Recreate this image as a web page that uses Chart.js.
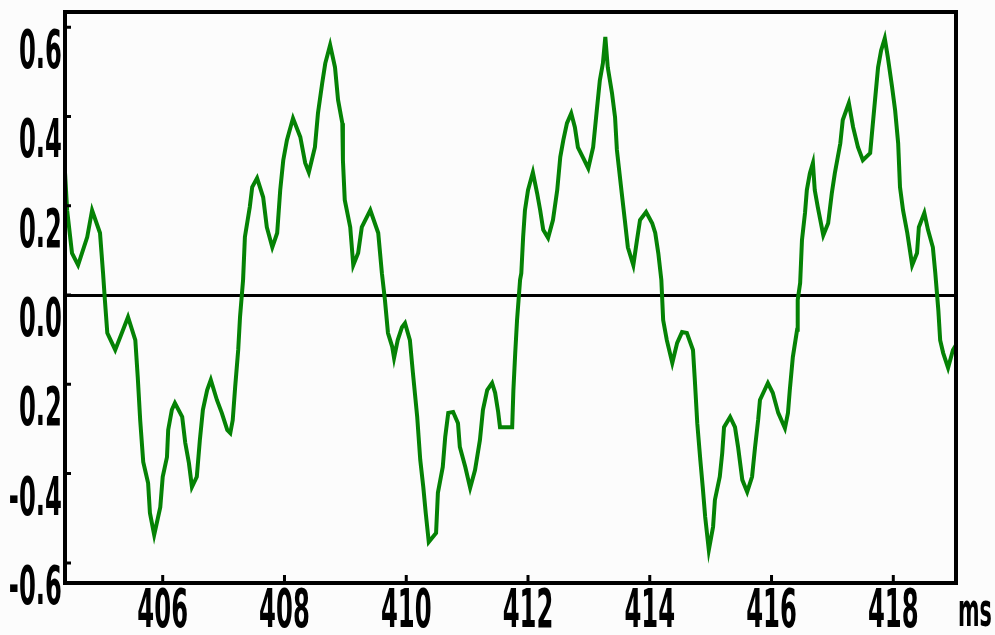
<!DOCTYPE html>
<html>
<head>
<meta charset="utf-8">
<script src="https://cdn.jsdelivr.net/npm/chart.js@4/dist/chart.umd.min.js"></script>
<style>
  body { margin: 0; background: #fcfcfc; }
  canvas { display: block; }
</style>
</head>
<body>
<canvas id="wave" width="995" height="635"></canvas>
<script>
// time axis, ms
let timeMs = [
  404.395, 404.43, 404.51, 404.61, 404.76, 404.84, 404.97, 405.02, 405.05, 405.09,
  405.22, 405.43, 405.55, 405.59, 405.63, 405.68, 405.76, 405.79, 405.86, 405.96,
  406.0, 406.07, 406.09, 406.15, 406.2, 406.32, 406.37, 406.43, 406.48, 406.56,
  406.61, 406.66, 406.73, 406.79, 406.89, 406.97, 407.06, 407.11, 407.15, 407.19,
  407.24, 407.27, 407.32, 407.35, 407.43, 407.47, 407.55, 407.65, 407.71, 407.8,
  407.88, 407.93, 407.98, 408.04, 408.14, 408.26, 408.34, 408.4, 408.5, 408.55,
  408.62, 408.67, 408.75, 408.83, 408.88, 408.95, 408.96, 408.99, 409.08, 409.13,
  409.21, 409.27, 409.41, 409.54, 409.6, 409.65, 409.7, 409.77, 409.8, 409.86,
  409.93, 409.98, 410.06, 410.11, 410.18, 410.23, 410.28, 410.32, 410.37, 410.49,
  410.52, 410.6, 410.64, 410.69, 410.77, 410.85, 410.88, 410.97, 411.05, 411.13,
  411.21, 411.26, 411.33, 411.41, 411.46, 411.51, 411.54, 411.74, 411.76, 411.79,
  411.82, 411.87, 411.89, 411.92, 411.95, 412.0, 412.08, 412.15, 412.2, 412.25,
  412.33, 412.41, 412.48, 412.53, 412.58, 412.64, 412.71, 412.77, 412.82, 412.9,
  412.99, 413.07, 413.13, 413.18, 413.23, 413.27, 413.31, 413.38, 413.43, 413.46,
  413.54, 413.59, 413.64, 413.73, 413.79, 413.84, 413.94, 414.04, 414.09, 414.14,
  414.19, 414.22, 414.28, 414.37, 414.45, 414.53, 414.61, 414.71, 414.74, 414.78,
  414.83, 414.87, 414.91, 414.97, 415.04, 415.07, 415.15, 415.19, 415.22, 415.32,
  415.4, 415.45, 415.52, 415.6, 415.68, 415.73, 415.78, 415.81, 415.94, 416.02,
  416.11, 416.22, 416.27, 416.3, 416.35, 416.42, 416.43, 416.47, 416.5, 416.55,
  416.58, 416.63, 416.68, 416.71, 416.76, 416.85, 416.93, 416.99, 417.04, 417.13,
  417.17, 417.27, 417.34, 417.42, 417.5, 417.62, 417.65, 417.7, 417.75, 417.8,
  417.86, 417.91, 417.98, 418.03, 418.08, 418.11, 418.16, 418.23, 418.31, 418.39,
  418.42, 418.51, 418.57, 418.65, 418.69, 418.74, 418.77, 418.82, 418.9, 418.98,
  419.03
];

let signal = [
  0.275, 0.19, 0.094, 0.067, 0.13, 0.19, 0.139, 0.049, -0.011, -0.085,
  -0.123, -0.049, -0.101, -0.184, -0.28, -0.374, -0.421, -0.488, -0.537, -0.475,
  -0.407, -0.363, -0.302, -0.257, -0.242, -0.273, -0.331, -0.376, -0.43, -0.407,
  -0.325, -0.257, -0.213, -0.19, -0.235, -0.264, -0.302, -0.309, -0.28, -0.206,
  -0.123, -0.049, 0.034, 0.13, 0.197, 0.242, 0.262, 0.219, 0.152, 0.107,
  0.139, 0.235, 0.302, 0.347, 0.396, 0.354, 0.296, 0.275, 0.331, 0.407,
  0.475, 0.519, 0.56, 0.51, 0.437, 0.385, 0.302, 0.213, 0.152, 0.067,
  0.094, 0.152, 0.19, 0.139, 0.049, -0.011, -0.085, -0.116, -0.141, -0.101,
  -0.072, -0.063, -0.101, -0.175, -0.273, -0.369, -0.43, -0.488, -0.553, -0.533,
  -0.443, -0.385, -0.318, -0.264, -0.262, -0.287, -0.34, -0.385, -0.432, -0.392,
  -0.325, -0.257, -0.213, -0.197, -0.219, -0.262, -0.296, -0.296, -0.213, -0.13,
  -0.056, 0.034, 0.049, 0.13, 0.19, 0.235, 0.275, 0.228, 0.19, 0.146,
  0.128, 0.168, 0.235, 0.309, 0.347, 0.385, 0.407, 0.376, 0.331, 0.309,
  0.284, 0.331, 0.414, 0.481, 0.519, 0.578, 0.51, 0.452, 0.398, 0.325,
  0.228, 0.168, 0.107, 0.067, 0.123, 0.168, 0.186, 0.161, 0.139, 0.094,
  0.034, -0.056, -0.101, -0.152, -0.107, -0.083, -0.085, -0.123, -0.19, -0.287,
  -0.369, -0.43, -0.497, -0.571, -0.519, -0.459, -0.407, -0.354, -0.296, -0.273,
  -0.296, -0.34, -0.414, -0.441, -0.407, -0.34, -0.28, -0.235, -0.197, -0.219,
  -0.264, -0.298, -0.264, -0.213, -0.139, -0.078, -0.011, 0.027, 0.123, 0.184,
  0.235, 0.273, 0.296, 0.235, 0.197, 0.134, 0.161, 0.228, 0.273, 0.34,
  0.392, 0.43, 0.376, 0.331, 0.302, 0.318, 0.363, 0.437, 0.51, 0.548,
  0.575, 0.533, 0.466, 0.414, 0.34, 0.242, 0.19, 0.139, 0.067, 0.094,
  0.152, 0.184, 0.146, 0.107, 0.049, -0.034, -0.101, -0.13, -0.163, -0.123,
  -0.112
];

let xTicks = [406, 408, 410, 412, 414, 416, 418];
let yTicks = [-0.6, -0.4, -0.2, 0, 0.2, 0.4, 0.6];
// labels as printed on the original (the -0.2 has lost its minus)
let yTickLabels = ["-0.6", "-0.4", "0.2", "0.0", "0.2", "0.4", "0.6"];
let unitLabel = "ms";

function narrowText(ctx, text, x, y, align) {
  ctx.save();
  ctx.translate(x, y);
  ctx.scale(0.45, 1);
  ctx.textAlign = align;
  ctx.fillText(text, 0, 0);
  ctx.restore();
}

const framePlugin = {
  id: "frame",
  afterDraw(chart) {
    const { ctx, chartArea: a, scales } = chart;
    ctx.save();
    ctx.strokeStyle = "#000";
    ctx.lineWidth = 4;
    ctx.strokeRect(a.left, a.top, a.right - a.left, a.bottom - a.top);

    // short inward tick marks
    ctx.lineWidth = 3;
    ctx.beginPath();
    scales.x.ticks.forEach((t) => {
      const px = scales.x.getPixelForValue(t.value);
      ctx.moveTo(px, a.bottom);
      ctx.lineTo(px, a.bottom - 8);
    });
    scales.y.ticks.forEach((t) => {
      const py = scales.y.getPixelForValue(t.value);
      ctx.moveTo(a.left, py);
      ctx.lineTo(a.left + 6, py);
    });
    ctx.stroke();

    ctx.fillStyle = "#000";
    ctx.font = 'bold 54px "DejaVu Sans"';
    ctx.textBaseline = "middle";
    scales.x.ticks.forEach((t) => {
      const px = scales.x.getPixelForValue(t.value);
      narrowText(ctx, String(t.value), px, 613, "center");
    });
    scales.y.ticks.forEach((t, i) => {
      const py = scales.y.getPixelForValue(t.value);
      narrowText(ctx, yTickLabels[i], 62, py + 27, "right");
    });
    ctx.font = 'bold 46px "DejaVu Sans"';
    narrowText(ctx, unitLabel, 975, 614, "center");
    ctx.restore();
  },
};

let points = timeMs.map((t, i) => ({ x: t, y: signal[i] }));

new Chart(document.querySelector("#wave"), {
  type: "line",
  data: {
    datasets: [
      {
        data: points,
        borderColor: "#058205",
        borderWidth: 4,
        pointRadius: 0,
        tension: 0,
        fill: false,
      },
    ],
  },
  options: {
    responsive: false,
    animation: false,
    devicePixelRatio: 1,
    layout: { padding: { left: 0, right: 39, top: 12, bottom: 0 } },
    plugins: {
      legend: { display: false },
      tooltip: { enabled: false },
    },
    scales: {
      x: {
        type: "linear",
        min: 404.395,
        max: 419.03,
        afterBuildTicks: (scale) => {
          scale.ticks = xTicks.map((v) => ({ value: v }));
        },
        afterFit: (scale) => {
          scale.height = 52;
        },
        ticks: { display: false },
        grid: { display: false },
        border: { display: false },
      },
      y: {
        min: -0.645,
        max: 0.634,
        z: 1,
        afterBuildTicks: (scale) => {
          scale.ticks = yTicks.map((v) => ({ value: v }));
        },
        afterFit: (scale) => {
          scale.width = 65;
        },
        ticks: { display: false },
        grid: {
          drawTicks: false,
          color: (c) => (c.tick && c.tick.value === 0 ? "#000" : "rgba(0,0,0,0)"),
          lineWidth: 3,
        },
        border: { display: false },
      },
    },
  },
  plugins: [framePlugin],
});
</script>
</body>
</html>
